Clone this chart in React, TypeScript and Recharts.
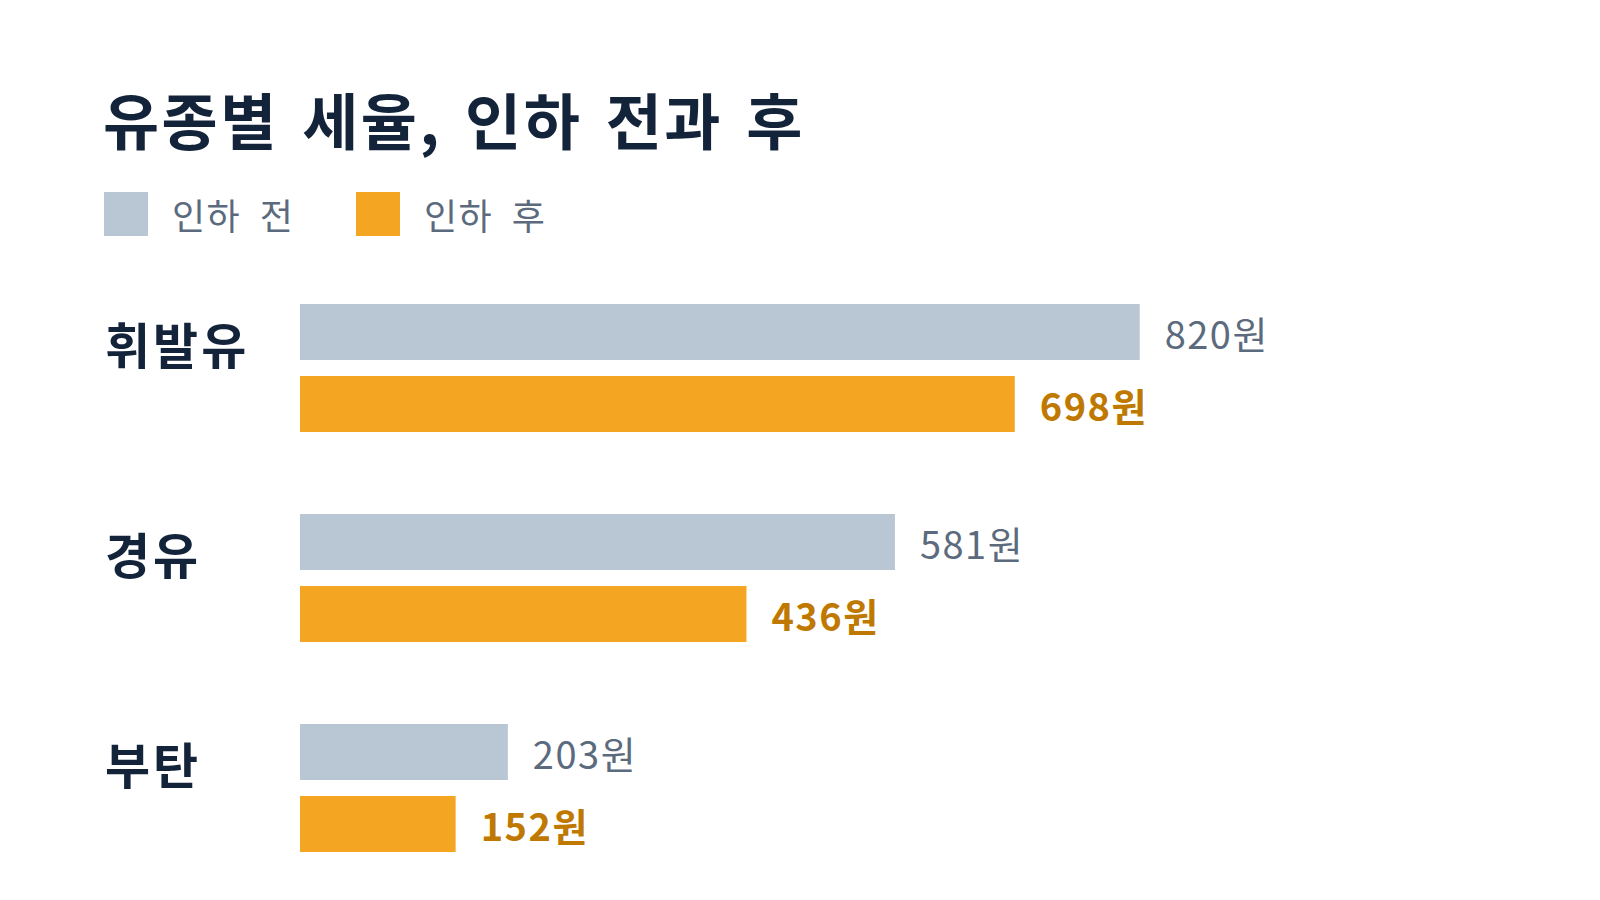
import React from 'react';
import { BarChart, Bar, XAxis, YAxis, LabelList } from 'recharts';

const FUELS = ['휘발유', '경유', '부탄'];
const BEFORE = [820, 581, 203];
const AFTER = [698, 436, 152];
const SERIES_NAMES = ['인하 전', '인하 후'];

const FONT = '"Noto Sans CJK KR", "Noto Sans", sans-serif';
const NAVY = '#12233a';
const GRAY_BAR = '#b9c7d4';
const ORANGE_BAR = '#f4a623';
const GRAY_TEXT = '#5b6b7d';
const ORANGE_TEXT = '#bf7900';

const data = FUELS.map((name, i) => ({ name, before: BEFORE[i], after: AFTER[i] }));

function FuelTick({ y, payload }: any) {
  return (
    <text
      x={105}
      y={y}
      dy={-26}
      dominantBaseline="central"
      textAnchor="start"
      fill={NAVY}
      fontSize={49}
      fontWeight={700}
      fontFamily={FONT}
      letterSpacing={3}
    >
      {payload.value}
    </text>
  );
}

// value label just right of each bar
function makeValueLabel(color: string, weight: number) {
  return function ValueLabel({ x, y, width, height, value }: any) {
    return (
      <text
        x={x + width + 25}
        y={y + height / 2 + 16.5}
        textAnchor="start"
        fill={color}
        fontSize={38}
        fontWeight={weight}
        fontFamily={FONT}
        letterSpacing={1.5}
      >
        {`${value}원`}
      </text>
    );
  };
}

const BeforeLabel = makeValueLabel(GRAY_TEXT, 400);
const AfterLabel = makeValueLabel(ORANGE_TEXT, 700);

// legend drawn as plain html above the chart
function LegendRow() {
  const items = [
    { label: SERIES_NAMES[0], color: GRAY_BAR, left: 104 },
    { label: SERIES_NAMES[1], color: ORANGE_BAR, left: 356 },
  ];
  return (
    <>
      {items.map((it) => (
        <div
          key={it.label}
          style={{ position: 'absolute', left: it.left, top: 192, display: 'flex', alignItems: 'center' }}
        >
          <span style={{ width: 44, height: 44, background: it.color, display: 'inline-block' }} />
          <span
            style={{
              marginLeft: 24,
              fontSize: 36,
              color: GRAY_TEXT,
              lineHeight: '44px',
              letterSpacing: 1.5,
              wordSpacing: 9,
              whiteSpace: 'nowrap',
            }}
          >
            {it.label}
          </span>
        </div>
      ))}
    </>
  );
}

export default function App() {
  return (
    <div style={{ position: 'fixed', left: 0, top: 0, width: 1600, height: 900, background: '#fff', fontFamily: FONT }}>
      <div
        style={{
          position: 'absolute',
          left: 103,
          top: 82,
          fontSize: 61,
          fontWeight: 700,
          color: NAVY,
          lineHeight: 1.2,
          letterSpacing: 2.5,
          wordSpacing: 7,
          whiteSpace: 'nowrap',
        }}
      >
        유종별 세율, 인하 전과 후
      </div>
      <LegendRow />
      <div style={{ position: 'absolute', left: 0, top: 0 }}>
        <BarChart
          width={1600}
          height={900}
          data={data}
          layout="vertical"
          margin={{ top: 263, right: 276, bottom: 7, left: 0 }}
          barGap={16}
        >
          <XAxis type="number" domain={[0, 1000]} hide />
          <YAxis
            type="category"
            dataKey="name"
            width={300}
            axisLine={false}
            tickLine={false}
            tick={<FuelTick />}
          />
          <Bar dataKey="before" name={SERIES_NAMES[0]} fill={GRAY_BAR} barSize={56} isAnimationActive={false}>
            <LabelList dataKey="before" content={<BeforeLabel />} />
          </Bar>
          <Bar dataKey="after" name={SERIES_NAMES[1]} fill={ORANGE_BAR} barSize={56} isAnimationActive={false}>
            <LabelList dataKey="after" content={<AfterLabel />} />
          </Bar>
        </BarChart>
      </div>
    </div>
  );
}
